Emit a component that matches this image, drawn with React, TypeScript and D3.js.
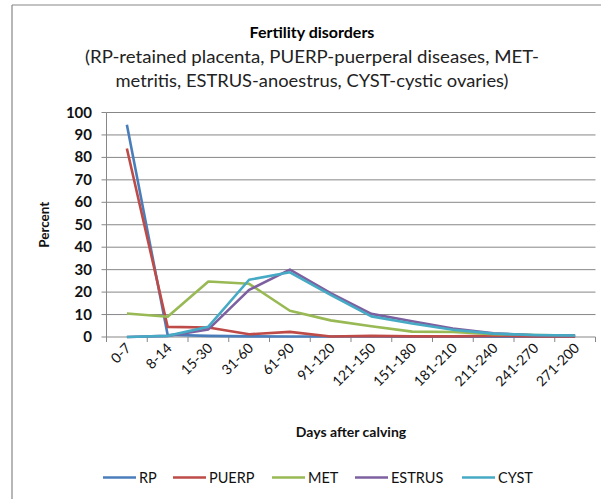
import React from "react";
import * as d3 from "d3";

const categories = ["0-7","8-14","15-30","31-60","61-90","91-120","121-150","151-180","181-210","211-240","241-270","271-200"];
const seriesNames = ["RP","PUERP","MET","ESTRUS","CYST"];
const rpValues = [94.5, 1, 0.5, 0.3, 0.2, 0.2, 0.2, 0.1, 0.1, 0.1, 0.1, 0.1];
const puerpValues = [84, 4.5, 4.2, 1.2, 2.3, 0.2, 0.5, 0.3, 0.3, 0.5, 0.3, 0.3];
const metValues = [10.5, 9, 24.7, 23.7, 11.7, 7.4, 4.8, 2.4, 2.2, 1.3, 0.9, 0.7];
const estrusValues = [0, 0.5, 3.4, 21, 30, 19.5, 10.3, 7, 3.8, 1.6, 0.8, 0.7];
const cystValues = [0, 0.5, 4.6, 25.5, 28.8, 18.8, 9.2, 6, 3.2, 1.5, 0.9, 0.7];
const yTicks = [0,10,20,30,40,50,60,70,80,90,100];
const colors = ["#4A7EBB","#BE4B48","#98B954","#7D60A0","#46AAC5"];

const FONT = "Lato, 'Open Sans', sans-serif";

export default function App() {
  const W = 601, H = 499;
  const left = 106.5, right = 595.5, top = 112.5, bottom = 337;
  const x = d3.scaleBand<string>().domain(categories).range([left, right]).padding(0);
  const y = d3.scaleLinear().domain([0, 100]).range([bottom, top]);
  const allSeries = [rpValues, puerpValues, metValues, estrusValues, cystValues];
  const line = d3.line<number>()
    .x((_, i) => (x(categories[i]) as number) + x.bandwidth() / 2)
    .y((d) => y(d));
  const legendX = [103, 173, 272, 355, 462];
  const grid = "#878787";
  return (
    <svg width={W} height={H} style={{ position: "absolute", left: 0, top: 0, background: "#fff" }}>
      <line x1={12} y1={5} x2={W} y2={5} stroke={grid} strokeWidth={1.2} />
      <line x1={12} y1={5} x2={12} y2={H} stroke={grid} strokeWidth={1.2} />
      <text x={312} y={38} textAnchor="middle" fontFamily={FONT} fontWeight="bold" fontSize={16} fill="#000">Fertility disorders</text>
      <text x={312} y={63} textAnchor="middle" fontFamily={FONT} fontSize={17.5} fill="#222" textLength={454} lengthAdjust="spacingAndGlyphs">(RP-retained placenta, PUERP-puerperal diseases, MET-</text>
      <text x={312} y={87} textAnchor="middle" fontFamily={FONT} fontSize={17.5} fill="#222" textLength={393} lengthAdjust="spacingAndGlyphs">metritis, ESTRUS-anoestrus, CYST-cystic ovaries)</text>
      {yTicks.map((t) => (
        <g key={t}>
          {t > 0 && <line x1={left} x2={right} y1={y(t)} y2={y(t)} stroke={grid} strokeWidth={1} />}
          <line x1={left - 5} x2={left} y1={y(t)} y2={y(t)} stroke={grid} strokeWidth={1} />
          <text x={92} y={y(t) + 5} textAnchor="end" fontFamily={FONT} fontWeight="bold" fontSize={15} fill="#111">{t}</text>
        </g>
      ))}
      <line x1={left} x2={left} y1={top} y2={bottom} stroke={grid} strokeWidth={1} />
      <line x1={left} x2={right} y1={bottom} y2={bottom} stroke={grid} strokeWidth={1} />
      {categories.concat(["end"]).map((c, i) => {
        const xx = left + i * x.bandwidth();
        return <line key={"t" + i} x1={xx} x2={xx} y1={bottom} y2={bottom + 5} stroke={grid} strokeWidth={1} />;
      })}
      {categories.map((c) => {
        const cx = (x(c) as number) + x.bandwidth() / 2 + 5;
        const cy = 349;
        return (
          <text key={c} x={cx} y={cy} textAnchor="end" transform={`rotate(-45 ${cx} ${cy})`} fontFamily={FONT} fontSize={14} fill="#111">{c}</text>
        );
      })}
      <text transform={`translate(49 ${(top + bottom) / 2}) rotate(-90)`} textAnchor="middle" fontFamily={FONT} fontWeight="bold" fontSize={13.5} fill="#111">Percent</text>
      <text x={(left + right) / 2} y={437} textAnchor="middle" fontFamily={FONT} fontWeight="bold" fontSize={14} fill="#111">Days after calving</text>
      {allSeries.map((vals, i) => (
        <path key={seriesNames[i]} d={line(vals) || ""} fill="none" stroke={colors[i]} strokeWidth={2.6} strokeLinejoin="round" />
      ))}
      {seriesNames.map((n, i) => (
        <g key={n}>
          <line x1={legendX[i]} x2={legendX[i] + 33} y1={477.5} y2={477.5} stroke={colors[i]} strokeWidth={2.6} />
          <text x={legendX[i] + 36} y={482.5} fontFamily={FONT} fontSize={14.5} fill="#111">{n}</text>
        </g>
      ))}
    </svg>
  );
}
